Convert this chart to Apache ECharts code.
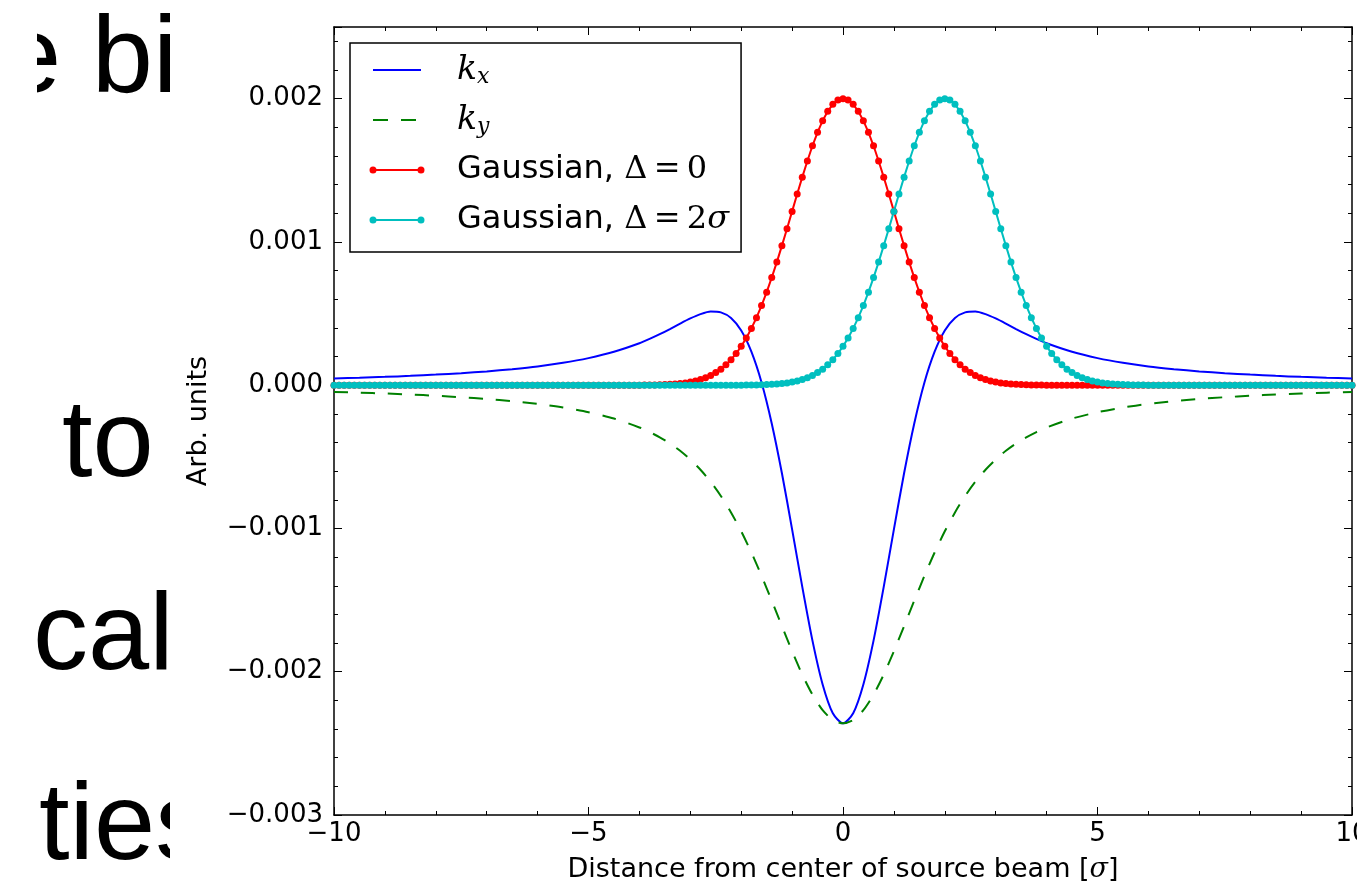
<!DOCTYPE html>
<html>
<head>
<meta charset="utf-8">
<script src="https://cdn.jsdelivr.net/npm/echarts@6/dist/echarts.min.js"></script>
<style>
html, body { margin: 0; padding: 0; background: #fff; }
#wrap { position: relative; width: 1357px; height: 890px; overflow: hidden; }
#chart { position: absolute; left: 0; top: 0; width: 1357px; height: 890px; z-index: 1; }
.slide { position: absolute; left: 37px; top: 0; width: 133px; height: 890px; overflow: hidden; z-index: 2; }
.slide div {
  position: absolute; white-space: nowrap;
  font-family: "Liberation Sans", Arial, sans-serif;
  font-size: 110px; line-height: 110px; color: #000;
}
</style>
</head>
<body>
<div id="wrap">
  <div id="chart"></div>
  <div class="slide">
    <div style="left:-37px; top:-1px;">e bi</div>
    <div style="left:25px; top:383px;">to</div>
    <div style="left:-4px; top:576px;">cal</div>
    <div style="left:2px; top:766px;">ties</div>
  </div>
</div>
<script>
// sample positions of the two gaussians (dots), sigma units
const gaussX = [
  -10,-9.9,-9.8,-9.7,-9.6,-9.5,-9.4,-9.3,-9.2,-9.1,
  -9,-8.9,-8.8,-8.7,-8.6,-8.5,-8.4,-8.3,-8.2,-8.1,
  -8,-7.9,-7.8,-7.7,-7.6,-7.5,-7.4,-7.3,-7.2,-7.1,
  -7,-6.9,-6.8,-6.7,-6.6,-6.5,-6.4,-6.3,-6.2,-6.1,
  -6,-5.9,-5.8,-5.7,-5.6,-5.5,-5.4,-5.3,-5.2,-5.1,
  -5,-4.9,-4.8,-4.7,-4.6,-4.5,-4.4,-4.3,-4.2,-4.1,
  -4,-3.9,-3.8,-3.7,-3.6,-3.5,-3.4,-3.3,-3.2,-3.1,
  -3,-2.9,-2.8,-2.7,-2.6,-2.5,-2.4,-2.3,-2.2,-2.1,
  -2,-1.9,-1.8,-1.7,-1.6,-1.5,-1.4,-1.3,-1.2,-1.1,
  -1,-0.9,-0.8,-0.7,-0.6,-0.5,-0.4,-0.3,-0.2,-0.1,
  0,0.1,0.2,0.3,0.4,0.5,0.6,0.7,0.8,0.9,
  1,1.1,1.2,1.3,1.4,1.5,1.6,1.7,1.8,1.9,
  2,2.1,2.2,2.3,2.4,2.5,2.6,2.7,2.8,2.9,
  3,3.1,3.2,3.3,3.4,3.5,3.6,3.7,3.8,3.9,
  4,4.1,4.2,4.3,4.4,4.5,4.6,4.7,4.8,4.9,
  5,5.1,5.2,5.3,5.4,5.5,5.6,5.7,5.8,5.9,
  6,6.1,6.2,6.3,6.4,6.5,6.6,6.7,6.8,6.9,
  7,7.1,7.2,7.3,7.4,7.5,7.6,7.7,7.8,7.9,
  8,8.1,8.2,8.3,8.4,8.5,8.6,8.7,8.8,8.9,
  9,9.1,9.2,9.3,9.4,9.5,9.6,9.7,9.8,9.9,
  10
];

// Gaussian, Delta = 0
const gauss0 = [
  0,0,0,0,0,0,0,0,0,0, 0,0,0,0,0,0,0,0,0,0, 0,0,0,0,0,0,0,0,0,0,
  0,0,0,0,0,0,0,0,0,0, 0,0,0,0,0,0,0,0,0,0, 0,0,0,0,0,0,0,0,0,0,
  0,
  0.000001,0.000001,0.000002,0.000003,0.000004,0.000006,0.000009,0.000012,0.000016,0.000022,
  0.000030,0.000040,0.000052,0.000068,0.000088,0.000112,0.000142,0.000178,0.000221,0.000271,
  0.000329,0.000396,0.000471,0.000556,0.000649,0.000751,0.000859,0.000974,0.001092,0.001213,
  0.001334,0.001452,0.001565,0.001671,0.001765,0.001846,0.001912,0.001960,0.001990,0.002000,
  0.001990,0.001960,0.001912,0.001846,0.001765,0.001671,0.001565,0.001452,0.001334,0.001213,
  0.001092,0.000974,0.000859,0.000751,0.000649,0.000556,0.000471,0.000396,0.000329,0.000271,
  0.000221,0.000178,0.000142,0.000112,0.000088,0.000068,0.000052,0.000040,0.000030,0.000022,
  0.000016,0.000012,0.000009,0.000006,0.000004,0.000003,0.000002,0.000001,0.000001,
  0,
  0,0,0,0,0,0,0,0,0,0, 0,0,0,0,0,0,0,0,0,0, 0,0,0,0,0,0,0,0,0,0,
  0,0,0,0,0,0,0,0,0,0, 0,0,0,0,0,0,0,0,0,0, 0,0,0,0,0,0,0,0,0,0
];

// Gaussian, Delta = 2 sigma
const gauss2 = [
  0,0,0,0,0,0,0,0,0,0, 0,0,0,0,0,0,0,0,0,0, 0,0,0,0,0,0,0,0,0,0,
  0,0,0,0,0,0,0,0,0,0, 0,0,0,0,0,0,0,0,0,0, 0,0,0,0,0,0,0,0,0,0,
  0,0,0,0,0,0,0,0,0,0, 0,0,0,0,0,0,0,0,0,0,
  0,
  0.000001,0.000001,0.000002,0.000003,0.000004,0.000006,0.000009,0.000012,0.000016,0.000022,
  0.000030,0.000040,0.000052,0.000068,0.000088,0.000112,0.000142,0.000178,0.000221,0.000271,
  0.000329,0.000396,0.000471,0.000556,0.000649,0.000751,0.000859,0.000974,0.001092,0.001213,
  0.001334,0.001452,0.001565,0.001671,0.001765,0.001846,0.001912,0.001960,0.001990,0.002000,
  0.001990,0.001960,0.001912,0.001846,0.001765,0.001671,0.001565,0.001452,0.001334,0.001213,
  0.001092,0.000974,0.000859,0.000751,0.000649,0.000556,0.000471,0.000396,0.000329,0.000271,
  0.000221,0.000178,0.000142,0.000112,0.000088,0.000068,0.000052,0.000040,0.000030,0.000022,
  0.000016,0.000012,0.000009,0.000006,0.000004,0.000003,0.000002,0.000001,0.000001,
  0,0,0,0,0,0,0,0,0,0, 0,0,0,0,0,0,0,0,0,0, 0,0,0,0,0,0,0,0,0,0,
  0,0,0,0,0,0,0,0,0,0, 0
];

// kick curves k_x / k_y
const kickX = [
  -10,-9.5,-9,-8.5,-8,-7.5,-7,-6.5,-6,-5.5,-5,-4.5,
  -4,-3.8,-3.6,-3.4,-3.2,-3,-2.8,-2.6,-2.4,-2.2,-2,-1.8,-1.6,-1.4,-1.2,-1,-0.8,-0.6,-0.4,-0.2,
  0,
  0.2,0.4,0.6,0.8,1,1.2,1.4,1.6,1.8,2,2.2,2.4,2.6,2.8,3,3.2,3.4,3.6,3.8,4,
  4.5,5,5.5,6,6.5,7,7.5,8,8.5,9,9.5,10
];
const kxVals = [
  0.000047,0.000052,0.000058,0.000065,0.000074,0.000084,0.000096,0.000112,0.000131,0.000156,0.000189,0.000233,
  0.000293,0.000323,0.000356,0.000392,0.000430,0.000466,0.000496,0.000514,0.000508,0.000469,
  0.000382,0.000234,0.000019,-0.000267,-0.000615,-0.001006,-0.001408,-0.001783,-0.002089,-0.002290,
  -0.002360,
  -0.002290,-0.002089,-0.001783,-0.001408,-0.001006,-0.000615,-0.000267,0.000019,0.000234,0.000382,
  0.000469,0.000508,0.000514,0.000496,0.000466,0.000430,0.000392,0.000356,0.000323,0.000293,
  0.000233,0.000189,0.000156,0.000131,0.000112,0.000096,0.000084,0.000074,0.000065,0.000058,0.000052,0.000047
];
const kyVals = [
  -0.000047,-0.000052,-0.000058,-0.000065,-0.000074,-0.000084,-0.000096,-0.000112,-0.000131,-0.000156,-0.000189,-0.000233,
  -0.000295,-0.000327,-0.000364,-0.000407,-0.000458,-0.000519,-0.000590,-0.000674,-0.000773,-0.000888,
  -0.001020,-0.001168,-0.001331,-0.001504,-0.001682,-0.001857,-0.002020,-0.002160,-0.002268,-0.002337,
  -0.002360,
  -0.002337,-0.002268,-0.002160,-0.002020,-0.001857,-0.001682,-0.001504,-0.001331,-0.001168,-0.001020,
  -0.000888,-0.000773,-0.000674,-0.000590,-0.000519,-0.000458,-0.000407,-0.000364,-0.000327,-0.000295,
  -0.000233,-0.000189,-0.000156,-0.000131,-0.000112,-0.000096,-0.000084,-0.000074,-0.000065,-0.000058,-0.000052,-0.000047
];

const legendLabels = {
  kx: '{k|k}{sub|x}',
  ky: '{k|k}{sub|y}',
  g0: 'Gaussian, {m|Δ\u2009=\u20090}',
  g2: 'Gaussian, {m|Δ\u2009=\u20092}{mi|σ}'
};

// legend icons: 83x10 box, sample line from 4 to 52
const iconSolid = 'path://M0,0M83,10M4,4h48v2h-48z';
const iconDash = 'path://M0,0M83,10M4,4h15v2h-15zM32,4h15v2h-15z';
const iconDots = 'path://M0,0M83,10M4,4.1h48v1.8h-48z' +
  'M0.5,5a3.5,3.5 0 1,1 7,0a3.5,3.5 0 1,1 -7,0z' +
  'M48.5,5a3.5,3.5 0 1,1 7,0a3.5,3.5 0 1,1 -7,0z';

const chart = echarts.init(document.getElementById('chart'))

const black = '#000'
const frame = { show: true, onZero: false, lineStyle: { color: black, width: 1.5 } }
const labelFont = { fontFamily: 'DejaVu Sans', fontSize: 26, color: black }

const xBase = {
  type: 'value', min: -10, max: 10, interval: 5,
  splitLine: { show: false },
  axisLine: frame,
  axisTick: { inside: true, length: 8, lineStyle: { color: black, width: 1 } },
  minorTick: { show: true, splitNumber: 5, length: 4, lineStyle: { color: black, width: 1 } },
}
const yMajor = {
  type: 'value', min: -0.003, max: 0.0025, interval: 0.001,
  splitLine: { show: false },
  axisTick: { inside: true, length: 8, lineStyle: { color: black, width: 1 } },
}
const yMinor = {
  type: 'value', min: -0.003, max: 0.0025, interval: 0.0002,
  splitLine: { show: false },
  axisLine: { show: false, onZero: false },
  axisLabel: { show: false },
  axisTick: { inside: true, length: 4, lineStyle: { color: black, width: 1 } },
}

chart.setOption({
  animation: false,
  grid: { left: 334, right: 5, top: 27, bottom: 75, containLabel: false, outerBoundsMode: 'none' },
  xAxis: [
    {
      ...xBase, position: 'bottom',
      axisLabel: {
        ...labelFont, margin: 6,
        formatter: v => (v < 0 ? '\u2212' + (-v) : String(v)),
      },
      name: 'Distance from center of source beam [{s|σ}]',
      nameLocation: 'middle', nameGap: 41,
      nameTextStyle: {
        fontFamily: 'DejaVu Sans', fontSize: 27, color: black,
        rich: { s: { fontFamily: 'DejaVu Serif', fontStyle: 'italic', fontSize: 27, color: black } },
      },
    },
    { ...xBase, position: 'top', axisLabel: { show: false } },
  ],
  yAxis: [
    {
      ...yMajor, position: 'left', axisLine: frame,
      axisLabel: {
        ...labelFont, margin: 11,
        formatter: v => {
          const n = Math.round(v * 10000)
          if (n % 10 !== 0) return ''
          return (n < 0 ? '\u2212' : '') + Math.abs(v).toFixed(3)
        },
      },
      name: 'Arb. units', nameLocation: 'middle', nameGap: 122,
      nameTextStyle: { fontFamily: 'DejaVu Sans', fontSize: 27, color: black },
    },
    { ...yMinor, position: 'left' },
    { ...yMajor, position: 'right', axisLine: frame, axisLabel: { show: false } },
    { ...yMinor, position: 'right' },
  ],
  legend: {
    orient: 'vertical', left: 350, top: 43, selectedMode: false,
    padding: [9, 12, 14, 19], itemGap: 14, itemWidth: 83, itemHeight: 10,
    backgroundColor: '#fff', borderColor: black, borderWidth: 1.5, borderRadius: 0,
    itemStyle: { borderWidth: 0 },
    textStyle: {
      fontFamily: 'DejaVu Sans', fontSize: 32, color: black, lineHeight: 36,
      rich: {
        k: { fontFamily: 'DejaVu Serif', fontStyle: 'italic', fontSize: 33, lineHeight: 36, color: black },
        sub: { fontFamily: 'DejaVu Serif', fontStyle: 'italic', fontSize: 22, lineHeight: 18, verticalAlign: 'bottom', color: black },
        m: { fontFamily: 'DejaVu Serif', fontSize: 32, lineHeight: 36, color: black },
        mi: { fontFamily: 'DejaVu Serif', fontStyle: 'italic', fontSize: 32, lineHeight: 36, color: black },
      },
    },
    formatter: name => legendLabels[name],
    data: [
      { name: 'kx', icon: iconSolid, itemStyle: { color: '#0000ff', borderWidth: 0 } },
      { name: 'ky', icon: iconDash, itemStyle: { color: '#008000', borderWidth: 0 } },
      { name: 'g0', icon: iconDots, itemStyle: { color: '#ff0000', borderWidth: 0 } },
      { name: 'g2', icon: iconDots, itemStyle: { color: '#00bfbf', borderWidth: 0 } },
    ],
  },
  series: [
    {
      name: 'kx', type: 'line', silent: true,
      data: kickX.map((x, i) => [x, kxVals[i]]),
      symbol: 'none', smooth: 0.25,
      lineStyle: { color: '#0000ff', width: 2 },
      itemStyle: { color: '#0000ff' },
    },
    {
      name: 'ky', type: 'line', silent: true,
      data: kickX.map((x, i) => [x, kyVals[i]]),
      symbol: 'none', smooth: 0.25,
      lineStyle: { color: '#008000', width: 2, type: [14, 13] },
      itemStyle: { color: '#008000' },
    },
    {
      name: 'g0', type: 'line', silent: true,
      data: gaussX.map((x, i) => [x, gauss0[i]]),
      symbol: 'circle', symbolSize: 7, showAllSymbol: true,
      lineStyle: { color: '#ff0000', width: 2 },
      itemStyle: { color: '#ff0000', borderWidth: 0 },
    },
    {
      name: 'g2', type: 'line', silent: true,
      data: gaussX.map((x, i) => [x, gauss2[i]]),
      symbol: 'circle', symbolSize: 7, showAllSymbol: true,
      lineStyle: { color: '#00bfbf', width: 2 },
      itemStyle: { color: '#00bfbf', borderWidth: 0 },
    },
  ],
})
</script>
</body>
</html>
